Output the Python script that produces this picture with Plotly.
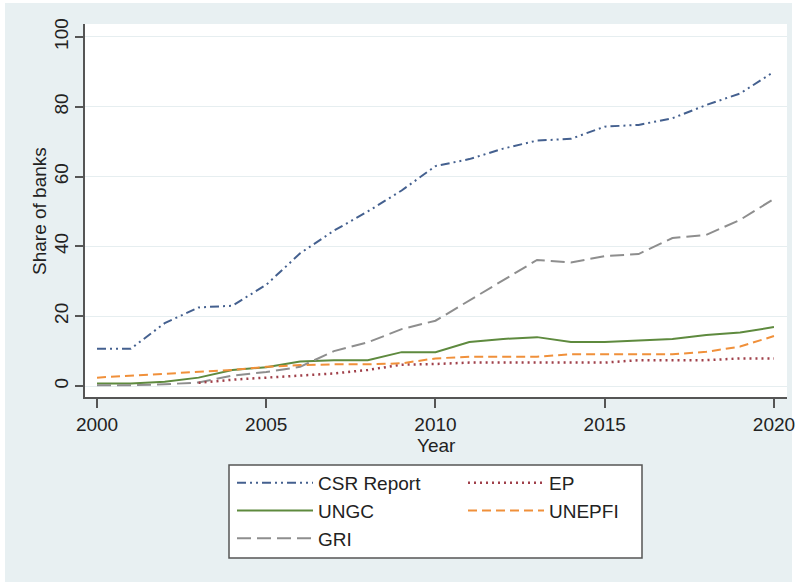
import plotly.graph_objects as go

years = list(range(2000, 2021))
csr_report = [10.7, 10.7, 18.0, 22.5, 23.0, 29.0, 38.0, 44.5, 50.0, 56.0, 63.0,
              65.0, 68.0, 70.3, 70.8, 74.3, 74.8, 76.7, 80.5, 83.8, 90.0]
ungc = [0.7, 0.7, 1.2, 2.4, 4.6, 5.4, 7.0, 7.4, 7.4, 9.7, 9.7,
        12.6, 13.5, 14.0, 12.6, 12.6, 13.0, 13.5, 14.6, 15.3, 16.9]
gri = [0.2, 0.2, 0.5, 1.0, 3.0, 4.0, 5.5, 10.0, 12.5, 16.3, 18.7,
       24.5, 30.3, 36.1, 35.4, 37.2, 37.8, 42.4, 43.3, 47.6, 53.6]
ep = [None, None, None, 0.9, 1.8, 2.4, 2.9, 3.6, 4.6, 6.1, 6.3,
      6.7, 6.7, 6.7, 6.7, 6.7, 7.4, 7.4, 7.4, 7.9, 7.9]
unepfi = [2.4, 2.9, 3.4, 4.0, 4.6, 5.5, 6.0, 6.2, 6.2, 6.5, 7.9,
          8.4, 8.4, 8.4, 9.1, 9.1, 9.1, 9.1, 9.8, 11.3, 14.3]

x_ticks = [2000, 2005, 2010, 2015, 2020]
y_ticks = [0, 20, 40, 60, 80, 100]
x_title = "Year"
y_title = "Share of banks"

FONT = "Liberation Sans, Arial, sans-serif"
TXT = "#222222"
BG = "#E8F0F2"

fig = go.Figure()

series = [
    ("CSR Report", csr_report, "#44608F", "9px,4px,2px,4px,2px,4px", 2, "legend"),
    ("UNGC", ungc, "#5E8A3E", "solid", 2, "legend"),
    ("GRI", gri, "#8E8E8E", "14px,6px", 2, "legend"),
    ("EP", ep, "#A0404A", "2px,4px", 2.5, "legend2"),
    ("UNEPFI", unepfi, "#F0903A", "9px,5px", 2, "legend2"),
]
for name, vals, color, dash, w, lg in series:
    fig.add_trace(go.Scatter(
        x=years, y=vals, mode="lines", name=name,
        line=dict(color=color, dash=dash, width=w),
        legend=lg, connectgaps=False,
    ))

W, H = 801, 583
L, R, T, B = 85, 14, 24, 186
pw, ph = W - L - R, H - T - B

def px_x(p):
    return (p - L) / pw

def px_y(p):
    return (H - B - p) / ph

shapes = [
    dict(type="rect", xref="paper", yref="paper", layer="below",
         x0=px_x(5), x1=px_x(792), y0=px_y(582), y1=px_y(3),
         fillcolor=BG, line=dict(width=0)),
    dict(type="rect", xref="paper", yref="paper", layer="below",
         x0=0, x1=1, y0=0, y1=1, fillcolor="white", line=dict(width=0)),
    dict(type="rect", xref="paper", yref="paper", layer="below",
         x0=px_x(229), x1=px_x(642), y0=px_y(558), y1=px_y(465),
         fillcolor="white", line=dict(color="#555555", width=1.5)),
]

annotations = [
    dict(text=x_title, xref="paper", yref="paper", x=0.5, y=px_y(445),
         xanchor="center", yanchor="middle", showarrow=False,
         font=dict(family=FONT, size=19, color=TXT)),
    dict(text=y_title, xref="paper", yref="paper", x=px_x(39), y=px_y(211),
         xanchor="center", yanchor="middle", showarrow=False, textangle=-90,
         font=dict(family=FONT, size=19, color=TXT)),
]

legend_common = dict(
    bgcolor="rgba(0,0,0,0)", borderwidth=0,
    font=dict(family=FONT, size=19, color=TXT),
    itemwidth=76, orientation="v", xanchor="left", yanchor="top",
    tracegroupgap=0, itemclick=False, itemdoubleclick=False,
)

fig.update_layout(
    width=W, height=H,
    margin=dict(l=L, r=R, t=T, b=B, autoexpand=False),
    paper_bgcolor="white", plot_bgcolor="white",
    font=dict(family=FONT, size=19, color=TXT),
    shapes=shapes, annotations=annotations,
    showlegend=True,
    legend=dict(x=px_x(232), y=px_y(464), **legend_common),
    legend2=dict(x=px_x(463), y=px_y(464), **legend_common),
    xaxis=dict(
        range=[1999.645, 2020.385], tickvals=x_ticks, automargin=False,
        ticks="outside", ticklen=9, tickcolor="#555555", tickwidth=1.5,
        showline=True, linecolor="#555555", linewidth=1.5,
        showgrid=False, zeroline=False, ticklabelstandoff=0,
        tickfont=dict(family=FONT, size=19, color=TXT),
    ),
    yaxis=dict(
        range=[-3.15, 103.7], tickvals=y_ticks, tickangle=-90, automargin=False,
        ticks="outside", ticklen=8, tickcolor="#555555", tickwidth=1.5,
        showline=True, linecolor="#555555", linewidth=1.5,
        showgrid=True, gridcolor="#E6EEF0", gridwidth=1,
        zeroline=False,
        tickfont=dict(family=FONT, size=19, color=TXT),
    ),
)

fig.write_html("out.html",
               config={"displayModeBar": False},
               post_script="document.body.style.margin='0px';")
